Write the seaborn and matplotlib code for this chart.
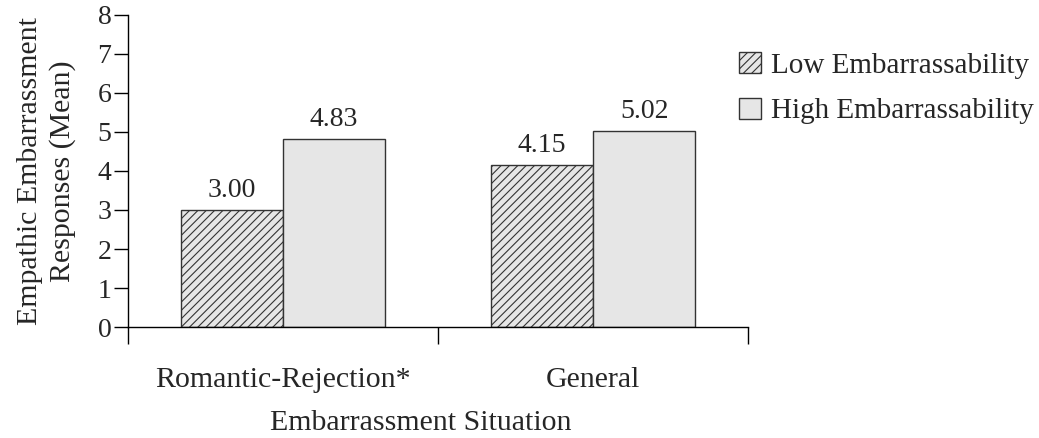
import seaborn as sns
import matplotlib.pyplot as plt
import pandas as pd
from matplotlib.patches import Patch
from matplotlib.ticker import FixedLocator

situations = ["Romantic-Rejection*", "General"]
groups = ["Low Embarrassability", "High Embarrassability"]
low_values = [3.00, 4.15]
high_values = [4.83, 5.02]
y_ticks = [0, 1, 2, 3, 4, 5, 6, 7, 8]


def main():
    data = pd.DataFrame({
        "Situation": situations * 2,
        "Group": [groups[0]] * 2 + [groups[1]] * 2,
        "Mean": low_values + high_values,
    })

    sns.set_style("white")
    plt.rcParams['font.family'] = ['Liberation Serif', 'DejaVu Serif']
    plt.rcParams['hatch.color'] = '#333333'
    plt.rcParams['hatch.linewidth'] = 0.8

    fig = plt.figure(figsize=(10.39, 4.38), dpi=100)
    ax = fig.add_axes([0.1232, 0.2534, 0.5968, 0.7124])

    sns.barplot(data=data, x="Situation", y="Mean", hue="Group",
                palette=["#e6e6e6", "#e6e6e6"], width=0.66,
                edgecolor="#333333", linewidth=1, saturation=1,
                legend=False, ax=ax)

    hatches = ["////", ""]
    for container, hatch in zip(ax.containers, hatches):
        for bar in container:
            bar.set_hatch(hatch)
        ax.bar_label(container, fmt="%.2f", padding=5, fontsize=20)

    ax.set_ylim(0, 8)
    ax.set_xlim(-0.5, 1.5)
    ax.set_yticks(y_ticks)
    ax.tick_params(axis='y', labelsize=20, length=10, width=1,
                   direction='out', left=True, pad=2, color='black')
    ax.tick_params(axis='x', which='major', labelsize=21.5, length=0, pad=29)
    ax.xaxis.set_minor_locator(FixedLocator([-0.5, 0.5, 1.5]))
    ax.tick_params(axis='x', which='minor', length=12, width=1,
                   direction='out', bottom=True, color='black')

    for side in ["top", "right"]:
        ax.spines[side].set_visible(False)
    for side in ["left", "bottom"]:
        ax.spines[side].set_color("black")
        ax.spines[side].set_linewidth(1)

    ax.set_xlabel("Embarrassment Situation", fontsize=21.5)
    ax.xaxis.set_label_coords(0.4726, -0.267)
    ax.set_ylabel("Empathic Embarrassment\nResponses (Mean)", fontsize=21.5,
                  linespacing=1.3)
    ax.yaxis.set_label_coords(-0.084, 0.5)

    handles = [Patch(facecolor="#e6e6e6", edgecolor="#333333", hatch=h)
               for h in ["////", ""]]
    fig.legend(handles, groups, loc="upper left",
               bbox_to_anchor=(0.711, 0.881), frameon=False, fontsize=21,
               handlelength=0.75, handleheight=0.75, handletextpad=0.35,
               labelspacing=0.64, borderaxespad=0, borderpad=0)

    plt.savefig("out.png", dpi=100)


if __name__ == '__main__':
    main()
